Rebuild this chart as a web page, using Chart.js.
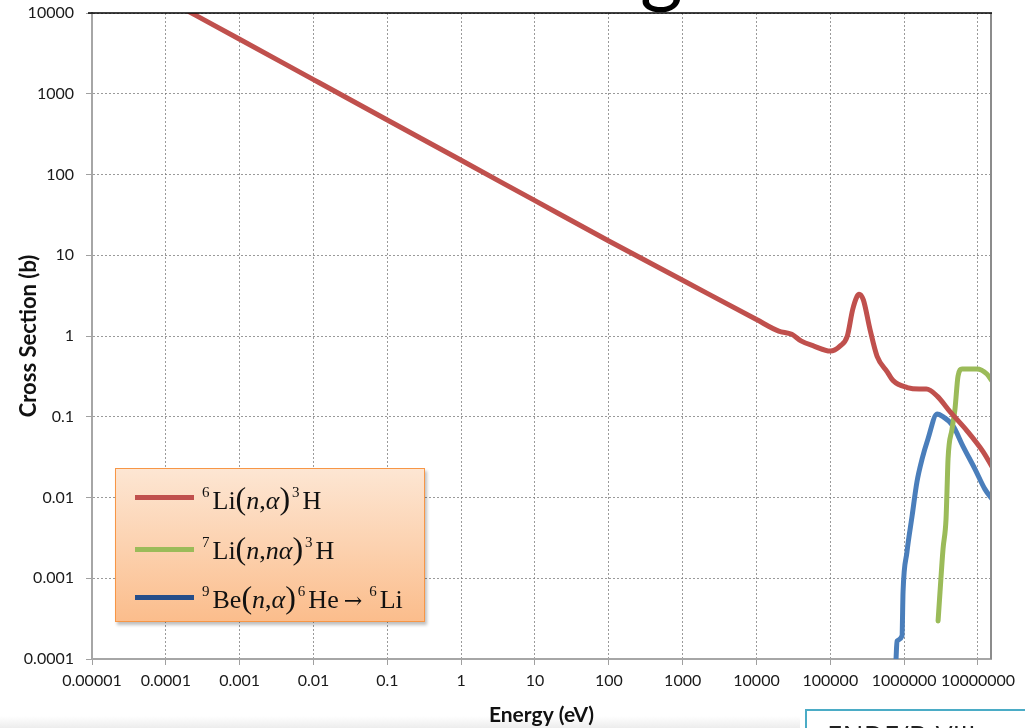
<!DOCTYPE html>
<html>
<head>
<meta charset="utf-8">
<script src="https://cdn.jsdelivr.net/npm/chart.js@4.4.1/dist/chart.umd.min.js"></script>
<style>
    html, body {
        margin: 0;
        padding: 0;
        background: #ffffff;
        overflow: hidden;
    }
    #wrap {
        position: relative;
        width: 1025px;
        height: 728px;
        overflow: hidden;
    }
    #chart-box {
        position: absolute;
        left: 0;
        top: 0;
        width: 1025px;
        height: 728px;
    }
    #title-tail {
        position: absolute;
        left: 640px;
        top: -78px;
        font-family: Lato, sans-serif;
        font-size: 82px;
        line-height: 86px;
        color: #000;
    }
    #legend {
        position: absolute;
        left: 115px;
        top: 468px;
        width: 308px;
        height: 152px;
        border: 1.5px solid #f79646;
        background: linear-gradient(to bottom, #fde6d3 0%, #fcd2b0 50%, #fbbd8c 100%);
        box-shadow: 2px 3px 3px rgba(0, 0, 0, 0.25);
        font-family: "Liberation Serif", "Times New Roman", serif;
        font-size: 26px;
        color: #111;
    }
    .row {
        position: absolute;
        left: 0;
        height: 40px;
        line-height: 40px;
        white-space: nowrap;
    }
    .sw {
        position: absolute;
        left: 19px;
        width: 59px;
        height: 5px;
    }
    .lab {
        position: absolute;
        left: 84px;
        top: -5px;
    }
    .lab sup {
        font-size: 15px;
        vertical-align: 12px;
        margin-right: 3px;
        margin-left: 2px;
    }
    .par {
        font-size: 32px;
    }
    .arrow {
        font-family: "DejaVu Serif", serif;
        font-size: 22px;
        margin: 0 5px;
    }
    #endf {
        position: absolute;
        left: 805px;
        top: 709px;
        width: 320px;
        height: 60px;
        border: 2px solid #4bacc6;
        font-family: "Open Sans", sans-serif;
        font-size: 28px;
        line-height: 28px;
        color: #222;
        padding-left: 20px;
        padding-top: 10px;
        box-sizing: border-box;
    }
    #shade {
        position: absolute;
        left: 0;
        top: 716px;
        width: 800px;
        height: 12px;
        background: linear-gradient(to bottom, rgba(240,240,240,0) 0%, rgba(232,232,232,0.8) 100%);
    }
</style>
</head>
<body>
<div id="wrap">
    <div id="shade"></div>
    <div id="chart-box"><canvas id="chart"></canvas></div>
    <div id="title-tail">g</div>
    <div id="legend">
        <div class="row" style="top: 8px;">
            <span class="sw" style="background: #c0504d; top: 18px;"></span>
            <span class="lab"><sup>6</sup>Li<span class="par">(</span><i>n</i>,<i>α</i><span class="par">)</span><sup>3</sup>H</span>
        </div>
        <div class="row" style="top: 58px;">
            <span class="sw" style="background: #9bbb59; top: 20px;"></span>
            <span class="lab"><sup>7</sup>Li<span class="par">(</span><i>n</i>,<i>nα</i><span class="par">)</span><sup>3</sup>H</span>
        </div>
        <div class="row" style="top: 107px;">
            <span class="sw" style="background: #254e8a; top: 19px;"></span>
            <span class="lab"><sup>9</sup>Be<span class="par">(</span><i>n</i>,<i>α</i><span class="par">)</span><sup>6</sup>He<span class="arrow">→</span><sup>6</sup>Li</span>
        </div>
    </div>
    <div id="endf">ENDF/B-VIII</div>
</div>
<script>
// 6Li(n,a)3H
const redEnergy = [1e-5, 1e-4, 1e-3, 1e-2, 0.1, 1, 10, 100, 1000, 1e4, 2e4, 3e4, 4e4, 6e4, 1e5, 1.35e5, 1.7e5, 2.0e5, 2.3e5, 2.45e5, 2.8e5, 3.45e5, 4.3e5, 5.9e5, 7.1e5, 1.1e6, 1.6e6, 2.0e6, 2.8e6, 4.2e6, 7.1e6, 1.17e7, 1.55e7];
const redSigma = [47000, 14900, 4730, 1495, 473, 150, 47.4, 15, 4.9, 1.6, 1.15, 1.05, 0.87, 0.75, 0.65, 0.75, 1.0, 2.1, 3.1, 3.3, 2.8, 1.2, 0.56, 0.36, 0.28, 0.23, 0.22, 0.22, 0.18, 0.115, 0.067, 0.037, 0.024];

// 7Li(n,na)3H
const greenEnergy = [2.88e6, 3.06e6, 3.36e6, 3.69e6, 3.8e6, 3.93e6, 4.45e6, 4.88e6, 5.37e6, 6.08e6, 9.7e6, 1.32e7, 1.55e7];
const greenSigma = [2.96e-4, 6.8e-4, 2.3e-3, 5.4e-3, 0.0117, 0.030, 0.0705, 0.125, 0.32, 0.39, 0.39, 0.338, 0.277];

// 9Be(n,a)6He -> 6Li
const blueEnergy = [7.76e5, 8.0e5, 9.35e5, 9.66e5, 1.09e6, 1.28e6, 1.49e6, 1.75e6, 2.1e6, 2.79e6, 3.26e6, 4.59e6, 6.27e6, 9.1e6, 1.24e7, 1.55e7];
const blueSigma = [1.0e-4, 1.67e-4, 1.93e-4, 6.8e-4, 2.1e-3, 5.9e-3, 0.0156, 0.030, 0.053, 0.108, 0.102, 0.077, 0.043, 0.0225, 0.0127, 0.0096];

const xTickLabels = ["0.00001", "0.0001", "0.001", "0.01", "0.1", "1", "10", "100", "1000", "10000", "100000", "1000000", "10000000"];
const yTickLabels = ["0.0001", "0.001", "0.01", "0.1", "1", "10", "100", "1000", "10000"];

const xTicks = xTickLabels.map(Number);
const yTicks = yTickLabels.map(Number);

const toPoints = (xs, ys) => xs.map((x, i) => ({ x: x, y: ys[i] }));

const tickFont = { family: "Lato, 'Open Sans', sans-serif", size: 16 };
const gridColor = "rgba(120, 120, 120, 0.75)";

// right frame and black top edge of the plot area
const frame = {
    id: "frame",
    afterDraw(chart) {
        const { ctx, chartArea } = chart;
        ctx.save();
        ctx.strokeStyle = "#8c8c8c";
        ctx.lineWidth = 2;
        ctx.beginPath();
        ctx.moveTo(chartArea.right, chartArea.top);
        ctx.lineTo(chartArea.right, chartArea.bottom);
        ctx.stroke();
        ctx.strokeStyle = "#000000";
        ctx.lineWidth = 1.5;
        ctx.beginPath();
        ctx.moveTo(chartArea.left - 4, chartArea.top);
        ctx.lineTo(chartArea.right + 1, chartArea.top);
        ctx.stroke();
        ctx.restore();
    },
};

const makeSet = (label, xs, ys, color) => ({
    label: label,
    data: toPoints(xs, ys),
    borderColor: color,
    backgroundColor: color,
    borderWidth: 5,
    pointRadius: 0,
    showLine: true,
    cubicInterpolationMode: "monotone",
    borderJoinStyle: "round",
    borderCapStyle: "round",
});

new Chart(document.getElementById("chart"), {
    type: "scatter",
    data: {
        datasets: [
            makeSet("6Li(n,a)3H", redEnergy, redSigma, "#c0504d"),
            makeSet("7Li(n,na)3H", greenEnergy, greenSigma, "#9bbb59"),
            makeSet("9Be(n,a)6He", blueEnergy, blueSigma, "#4a7ebb"),
        ],
    },
    options: {
        responsive: true,
        maintainAspectRatio: false,
        animation: false,
        layout: {
            padding: { left: 0, top: 13, right: 34, bottom: 0 },
        },
        plugins: {
            legend: { display: false },
            tooltip: { enabled: false },
        },
        scales: {
            x: {
                type: "logarithmic",
                min: 1e-5,
                max: 1.5e7,
                afterBuildTicks: (scale) => {
                    scale.ticks = xTicks.map((v) => ({ value: v }));
                },
                afterFit: (scale) => {
                    scale.height = 69;
                },
                ticks: {
                    color: "#1a1a1a",
                    font: tickFont,
                    padding: 6,
                    maxRotation: 0,
                    autoSkip: false,
                    callback: (value, index) => xTickLabels[index],
                },
                grid: {
                    color: gridColor,
                    lineWidth: 1,
                    tickLength: 6,
                    tickColor: "#a0a0a0",
                },
                border: {
                    display: true,
                    color: "#a6a6a6",
                    width: 2,
                    dash: [2, 2],
                },
                title: {
                    display: true,
                    text: "Energy (eV)",
                    color: "#111",
                    font: { family: "Lato, 'Open Sans', sans-serif", size: 21, weight: "bold" },
                    padding: { top: 0, bottom: 0 },
                },
            },
            y: {
                type: "logarithmic",
                min: 1e-4,
                max: 1e4,
                afterBuildTicks: (scale) => {
                    scale.ticks = yTicks.map((v) => ({ value: v }));
                },
                afterFit: (scale) => {
                    scale.width = 92;
                    scale.paddingTop = 0;
                    scale.paddingBottom = 0;
                },
                ticks: {
                    color: "#1a1a1a",
                    font: tickFont,
                    padding: 12,
                    autoSkip: false,
                    callback: (value, index) => yTickLabels[index],
                },
                grid: {
                    color: gridColor,
                    lineWidth: 1,
                    tickLength: 6,
                    tickColor: "#a0a0a0",
                },
                border: {
                    display: true,
                    color: "#a6a6a6",
                    width: 2,
                    dash: [2, 2],
                },
                title: {
                    display: true,
                    text: "Cross Section (b)",
                    color: "#111",
                    font: { family: "Lato, 'Open Sans', sans-serif", size: 22, weight: "bold" },
                    padding: { top: 16, bottom: 0 },
                },
            },
        },
    },
    plugins: [frame],
});
</script>
</body>
</html>
